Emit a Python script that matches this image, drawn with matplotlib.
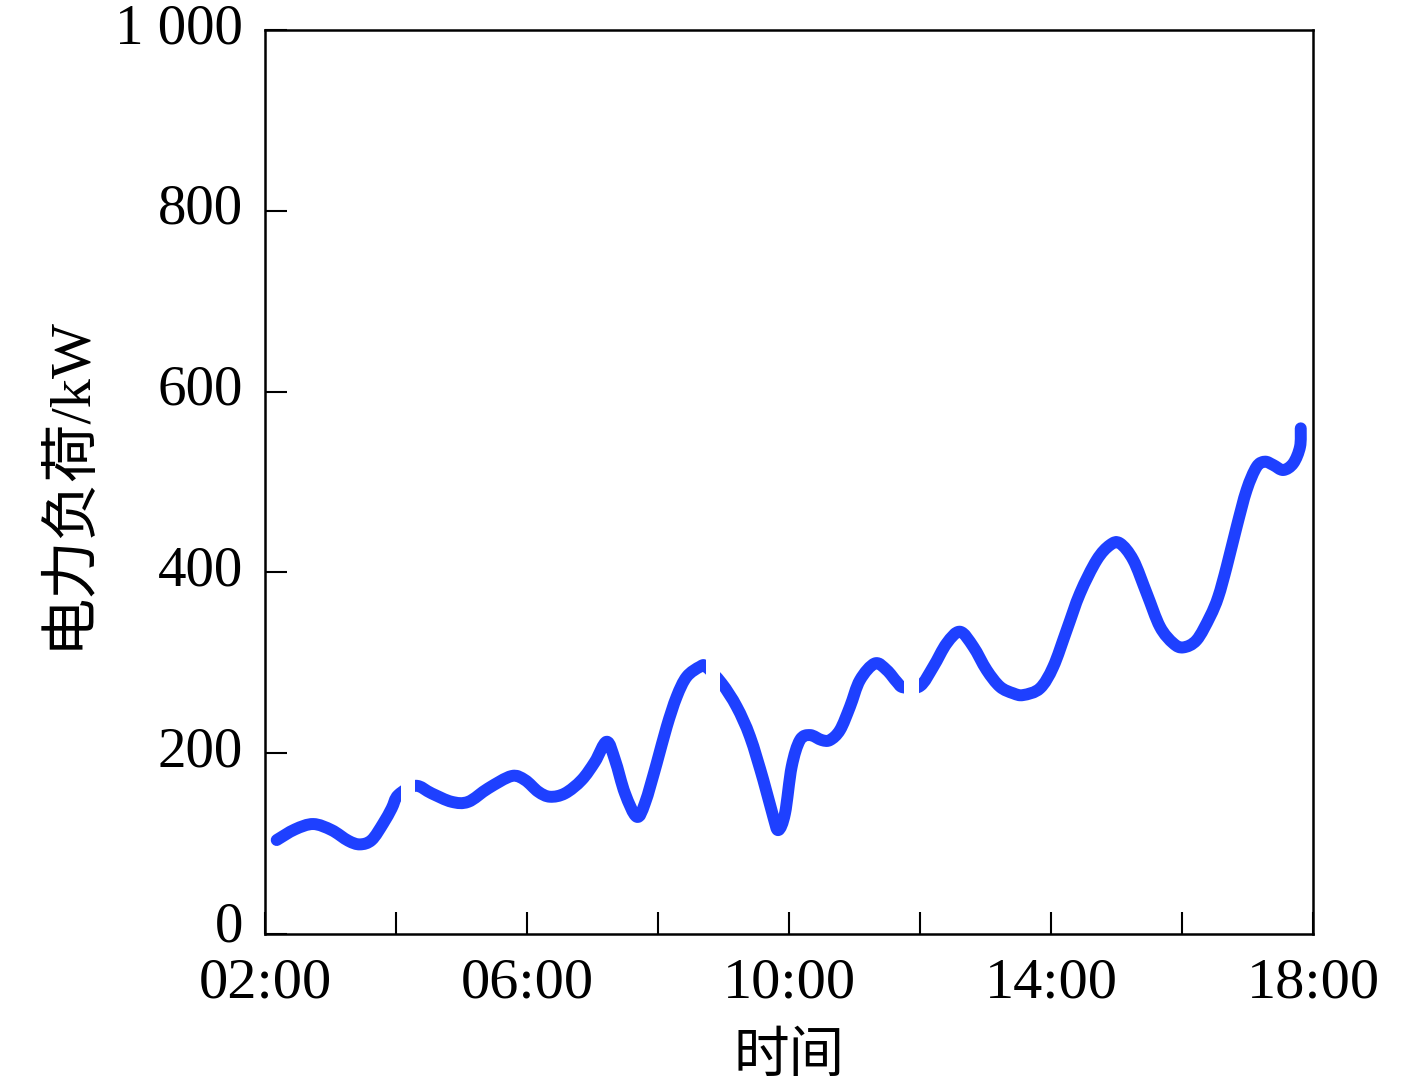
import matplotlib
matplotlib.use("Agg")
import matplotlib.pyplot as plt
import matplotlib.transforms as mtransforms
from matplotlib.path import Path
from matplotlib.patches import PathPatch

plt.rcParams["font.family"] = ["Liberation Serif", "Noto Sans CJK SC", "DejaVu Sans"]

# ---------- data ----------
hours = [
    2.179, 2.458, 2.737, 3.018, 3.272, 3.450, 3.629, 3.806, 3.934, 4.035,
    4.301, 4.545, 4.850, 5.104, 5.409, 5.766, 5.969, 6.173, 6.351, 6.580,
    6.835, 7.038, 7.217, 7.344, 7.496, 7.675, 7.802, 7.980, 8.133, 8.285,
    8.438, 8.641, 8.733, 8.973, 9.202, 9.405, 9.608, 9.760, 9.837, 9.939,
    10.041, 10.168, 10.321, 10.499, 10.626, 10.779, 10.931, 11.084, 11.313, 11.492,
    11.644, 11.745, 12.000, 12.203, 12.408, 12.611, 12.814, 13.018, 13.221, 13.424,
    13.577, 13.832, 14.035, 14.240, 14.443, 14.698, 14.901, 15.053, 15.256, 15.461,
    15.664, 15.867, 16.020, 16.224, 16.427, 16.554, 16.682, 16.835, 16.987, 17.140,
    17.267, 17.394, 17.546, 17.699, 17.802, 17.813,
]
load_kw = [
    104.0, 115.8, 121.7, 115.0, 103.2, 99.2, 104.0, 122.5, 139.0, 153.8,
    164.0, 155.6, 146.3, 146.3, 161.2, 174.8, 170.4, 157.4, 151.9, 155.6,
    170.4, 190.6, 212.7, 192.5, 155.6, 129.8, 145.0, 188.8, 229.3, 262.5,
    284.6, 295.7, 295.7, 277.3, 251.4, 218.3, 170.4, 129.8, 115.0, 133.5,
    185.1, 214.6, 220.1, 214.6, 214.6, 225.7, 251.4, 281.0, 299.4, 292.0,
    279.1, 272.9, 274.3, 295.7, 321.6, 334.4, 317.8, 292.0, 273.6, 266.3,
    264.4, 271.8, 295.7, 336.3, 376.9, 413.7, 430.3, 432.2, 413.7, 376.9,
    339.9, 321.6, 317.1, 325.2, 351.0, 373.1, 406.3, 450.6, 491.2, 516.9,
    522.5, 518.8, 513.3, 520.7, 539.0, 559.4,
]
# breaks in the drawn curve (start hour, end hour)
gaps = [(4.07, 4.29), (8.74, 8.95), (11.76, 11.98)]

x_ticks = [2, 4, 6, 8, 10, 12, 14, 16, 18]
x_labels = ["02:00", "", "06:00", "", "10:00", "", "14:00", "", "18:00"]
y_ticks = [0, 200, 400, 600, 800, 1000]
y_labels = ["0", "200", "400", "600", "800", "1 000"]


def smooth_path(xs, ys):
    """Catmull-Rom curve through the points, as cubic Bezier segments."""
    pts = list(zip(xs, ys))
    n = len(pts)
    verts = [pts[0]]
    codes = [Path.MOVETO]
    for i in range(n - 1):
        p0 = pts[i - 1] if i > 0 else pts[i]
        p1 = pts[i]
        p2 = pts[i + 1]
        p3 = pts[i + 2] if i + 2 < n else pts[i + 1]
        c1 = (p1[0] + (p2[0] - p0[0]) / 6, p1[1] + (p2[1] - p0[1]) / 6)
        c2 = (p2[0] - (p3[0] - p1[0]) / 6, p2[1] - (p3[1] - p1[1]) / 6)
        verts += [c1, c2, p2]
        codes += [Path.CURVE4] * 3
    return Path(verts, codes)


# ---------- figure ----------
fig = plt.figure(figsize=(14.17, 10.87), dpi=100)
ax = fig.add_axes([0.187, 0.1407, 0.7396, 0.8317])

curve = PathPatch(smooth_path(hours, load_kw), fill=False, edgecolor="#1e40ff",
                  linewidth=8.6, capstyle="round", joinstyle="round", zorder=2)
ax.add_patch(curve)

# white breaks over the curve
for g0, g1 in gaps:
    ax.axvspan(g0, g1, ymin=0.05, ymax=0.95, color="white", lw=0, zorder=3)

ax.set_xlim(2, 18)
ax.set_ylim(0, 1000)
ax.set_xticks(x_ticks)
ax.set_xticklabels(x_labels)
ax.set_yticks(y_ticks)
ax.set_yticklabels(y_labels)

ax.tick_params(axis="both", direction="in", length=16, width=1.5,
               colors="black")
ax.tick_params(axis="y", pad=16, labelsize=41)
ax.tick_params(axis="x", pad=17, labelsize=42)

# y tick labels sit a little above their ticks in the reference
for lab in ax.get_yticklabels():
    dy = 13 if lab.get_text() == "0" else 7
    lab.set_transform(lab.get_transform() +
                      mtransforms.ScaledTranslation(0, dy / 100, fig.dpi_scale_trans))

for sp in ax.spines.values():
    sp.set_linewidth(1.8)
    sp.set_color("black")

ax.set_xlabel("时间", fontsize=40, labelpad=16)
ax.set_ylabel("电力负荷/kW", fontsize=42, labelpad=14)

fig.savefig("out.png", dpi=100)
